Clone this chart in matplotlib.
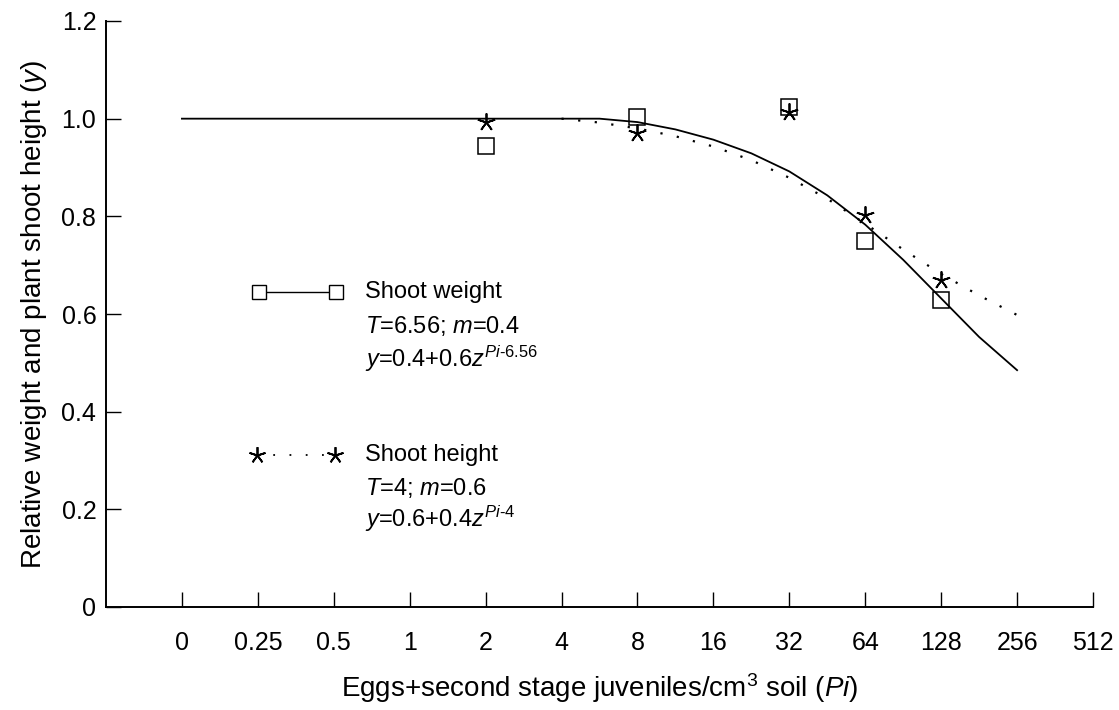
import matplotlib
matplotlib.use("Agg")
import matplotlib.pyplot as plt
from matplotlib.lines import Line2D

plt.rcParams['font.family'] = ['Liberation Sans', 'DejaVu Sans']
plt.rcParams['mathtext.fontset'] = 'custom'
plt.rcParams['mathtext.rm'] = 'Liberation Sans'
plt.rcParams['mathtext.it'] = 'Liberation Sans:italic'

# x axis: evenly spaced log2 categories
pi_labels = ['0', '0.25', '0.5', '1', '2', '4', '8', '16', '32', '64', '128', '256', '512']
pi_pos = list(range(len(pi_labels)))

# observed points (Pi = 2, 8, 32, 64, 128)
obs_pos = [4, 6, 8, 9, 10]
weight_obs = [0.944, 1.004, 1.024, 0.75, 0.628]
height_obs = [0.993, 0.970, 1.014, 0.802, 0.669]

# fitted curves
weight_curve_pos = [0, 5.5, 6, 6.5, 7, 7.5, 8, 8.5, 9, 9.5, 10, 10.5, 11]
weight_curve = [1.0, 1.0, 0.993, 0.978, 0.957, 0.929, 0.892, 0.843, 0.783, 0.711, 0.632, 0.553, 0.485]
height_curve_pos = [5, 5.5, 6, 6.5, 7, 7.5, 8, 8.5, 9, 9.5, 10, 10.5, 11]
height_curve = [1.0, 0.992, 0.98, 0.964, 0.943, 0.915, 0.879, 0.836, 0.785, 0.732, 0.682, 0.638, 0.598]

y_ticks = [0, 0.2, 0.4, 0.6, 0.8, 1.0, 1.2]
y_labels = ['0', '0.2', '0.4', '0.6', '0.8', '1.0', '1.2']

W, H = 1119, 710
fig = plt.figure(figsize=(W / 100, H / 100), dpi=100)
ax = fig.add_axes([106 / W, 1 - 607 / H, (1093 - 106) / W, (607 - 21) / H])

ax.plot(weight_curve_pos, weight_curve, color='black', lw=1.3)
ax.plot(height_curve_pos, height_curve, color='black', lw=1.6, linestyle=(0, (1, 6.5)))
ax.plot(obs_pos, weight_obs, linestyle='none', marker='s', ms=11,
        mfc='none', mec='black', mew=1.1)
ax.plot(obs_pos, height_obs, linestyle='none', marker=(5, 2, 0), ms=13,
        color='black', mew=1.3)

ax.set_xlim(-1, 12)
ax.set_ylim(0, 1.2)
ax.set_xticks(pi_pos)
ax.set_xticklabels(pi_labels)
ax.set_yticks(y_ticks)
ax.set_yticklabels(y_labels)
ax.tick_params(axis='both', direction='in', labelsize=18, width=1, colors='black')
ax.tick_params(axis='x', length=11, pad=17)
ax.tick_params(axis='y', length=11, pad=7)
for s in ['top', 'right']:
    ax.spines[s].set_visible(False)
for s in ['left', 'bottom']:
    ax.spines[s].set_linewidth(1.4)

ax.set_xlabel('Eggs+second stage juveniles/cm$^3$ soil ($\\mathit{Pi}$)', fontsize=20, labelpad=12)
ax.set_ylabel('Relative weight and plant shoot height ($\\mathit{y}$)', fontsize=20, labelpad=9)

# hand-drawn legend
def fx(x):
    return x / W

def fy(y):
    return 1 - y / H

fig.add_artist(Line2D([fx(259), fx(336)], [fy(292), fy(292)], color='black', lw=1.0,
                      marker='s', ms=10, mfc='white', mec='black', mew=1.0))
fig.add_artist(Line2D([fx(257), fx(335)], [fy(455), fy(455)], color='black', lw=1.3,
                      linestyle=(0, (1, 8)), marker=(5, 2, 0), ms=12, mew=1.3))

tx = fx(365)
fs = 17
fig.text(tx, fy(292), 'Shoot weight', fontsize=fs, va='center')
fig.text(tx, fy(326), '$\\mathit{T}$=6.56; $\\mathit{m}$=0.4', fontsize=fs, va='center')
fig.text(tx, fy(359), '$\\mathit{y}$=0.4+0.6$\\mathit{z}^{\\mathit{Pi}\\mathrm{\u2010}6.56}$',
         fontsize=fs, va='center')
fig.text(tx, fy(455), 'Shoot height', fontsize=fs, va='center')
fig.text(tx, fy(488), '$\\mathit{T}$=4; $\\mathit{m}$=0.6', fontsize=fs, va='center')
fig.text(tx, fy(519), '$\\mathit{y}$=0.6+0.4$\\mathit{z}^{\\mathit{Pi}\\mathrm{\u2010}4}$',
         fontsize=fs, va='center')

fig.savefig('out.png', dpi=100)
